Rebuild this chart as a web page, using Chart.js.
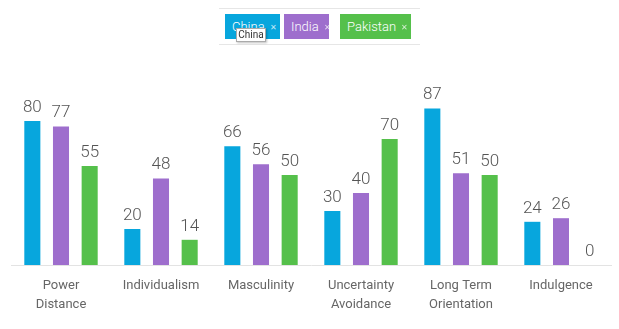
<!DOCTYPE html>
<html lang="en">
<head>
    <meta charset="UTF-8">
    <title>Cultural Dimensions</title>
    <script src="https://cdn.jsdelivr.net/npm/chart.js"></script>
    <style>
        body { margin: 0; background: #fff; font-family: Roboto, sans-serif; }
        #wrap { position: relative; width: 619px; height: 329px; }
        #legend {
            position: absolute; left: 219px; top: 8px; width: 201px; height: 37px;
            border-top: 1px solid #e6e6e6; border-bottom: 1px solid #e6e6e6;
            box-sizing: border-box;
        }
        .tag {
            position: absolute; top: 5px; height: 25px; line-height: 25px;
            color: #fff; font-size: 13px; font-weight: 300; padding-left: 7px; box-sizing: border-box;
        }
        .tag span { font-size: 8px; margin-left: 5px; opacity: 0.75; vertical-align: 1px; }
        #tip {
            position: absolute; left: 236px; top: 28px; width: 30px; height: 14px;
            background: #fff; border: 1px solid #aaa; box-shadow: 1px 1px 2px rgba(0,0,0,0.25);
            font-size: 10px; line-height: 12px; color: #333; text-align: center; box-sizing: border-box;
        }
        canvas { position: absolute; left: 0; top: 0; }
    </style>
</head>
<body>
    <div id="wrap">
        <canvas id="dimChart" width="619" height="329"></canvas>
        <div id="legend"></div>
        <div id="tip">China</div>
    </div>

    <script>
        const categories = [['Power', 'Distance'], 'Individualism', 'Masculinity', ['Uncertainty', 'Avoidance'], ['Long Term', 'Orientation'], 'Indulgence'];
        const countries = ['China', 'India', 'Pakistan'];
        const china = [80, 20, 66, 30, 87, 24];
        const india = [77, 48, 56, 40, 51, 26];
        const pakistan = [55, 14, 50, 70, 50, 0];
        const colors = ['#07a6dd', '#9e6ecd', '#55c04b'];

        // legend tags (positions)
        const tagBox = [[6, 55], [65, 45], [121, 71]];
        const legend = document.getElementById('legend');
        countries.forEach((c, i) => {
            const d = document.createElement('div');
            d.className = 'tag';
            d.style.left = tagBox[i][0] + 'px';
            d.style.width = tagBox[i][1] + 'px';
            d.style.background = colors[i];
            d.innerHTML = c + '<span>&#x2715;</span>';
            legend.appendChild(d);
        });

        const valueLabels = {
            id: 'valueLabels',
            afterDatasetsDraw(chart) {
                const ctx = chart.ctx;
                ctx.save();
                ctx.font = '300 17px Roboto';
                ctx.fillStyle = '#555';
                ctx.textAlign = 'center';
                ctx.textBaseline = 'bottom';
                chart.data.datasets.forEach((ds, i) => {
                    chart.getDatasetMeta(i).data.forEach((bar, j) => {
                        ctx.fillText(ds.data[j], bar.x, bar.y - 5);
                    });
                });
                ctx.restore();
            }
        };

        new Chart(document.getElementById('dimChart'), {
            type: 'bar',
            data: {
                labels: categories,
                datasets: [
                    { label: countries[0], data: china, backgroundColor: colors[0] },
                    { label: countries[1], data: india, backgroundColor: colors[1] },
                    { label: countries[2], data: pakistan, backgroundColor: colors[2] }
                ]
            },
            options: {
                responsive: false,
                animation: false,
                events: [],
                barPercentage: 0.56,
                categoryPercentage: 0.86,
                layout: { padding: { left: 11, right: 8, top: 85, bottom: 0 } },
                plugins: { legend: { display: false }, tooltip: { enabled: false } },
                scales: {
                    x: {
                        grid: { display: false },
                        border: { color: '#e3e3e3', width: 1 },
                        ticks: { color: '#666', font: { family: 'Roboto', size: 13, lineHeight: 1.45 }, padding: 3, maxRotation: 0 },
                        afterFit(s) { s.height = 64; }
                    },
                    y: { display: false, min: 0, max: 100 }
                }
            },
            plugins: [valueLabels]
        });
    </script>
</body>
</html>
